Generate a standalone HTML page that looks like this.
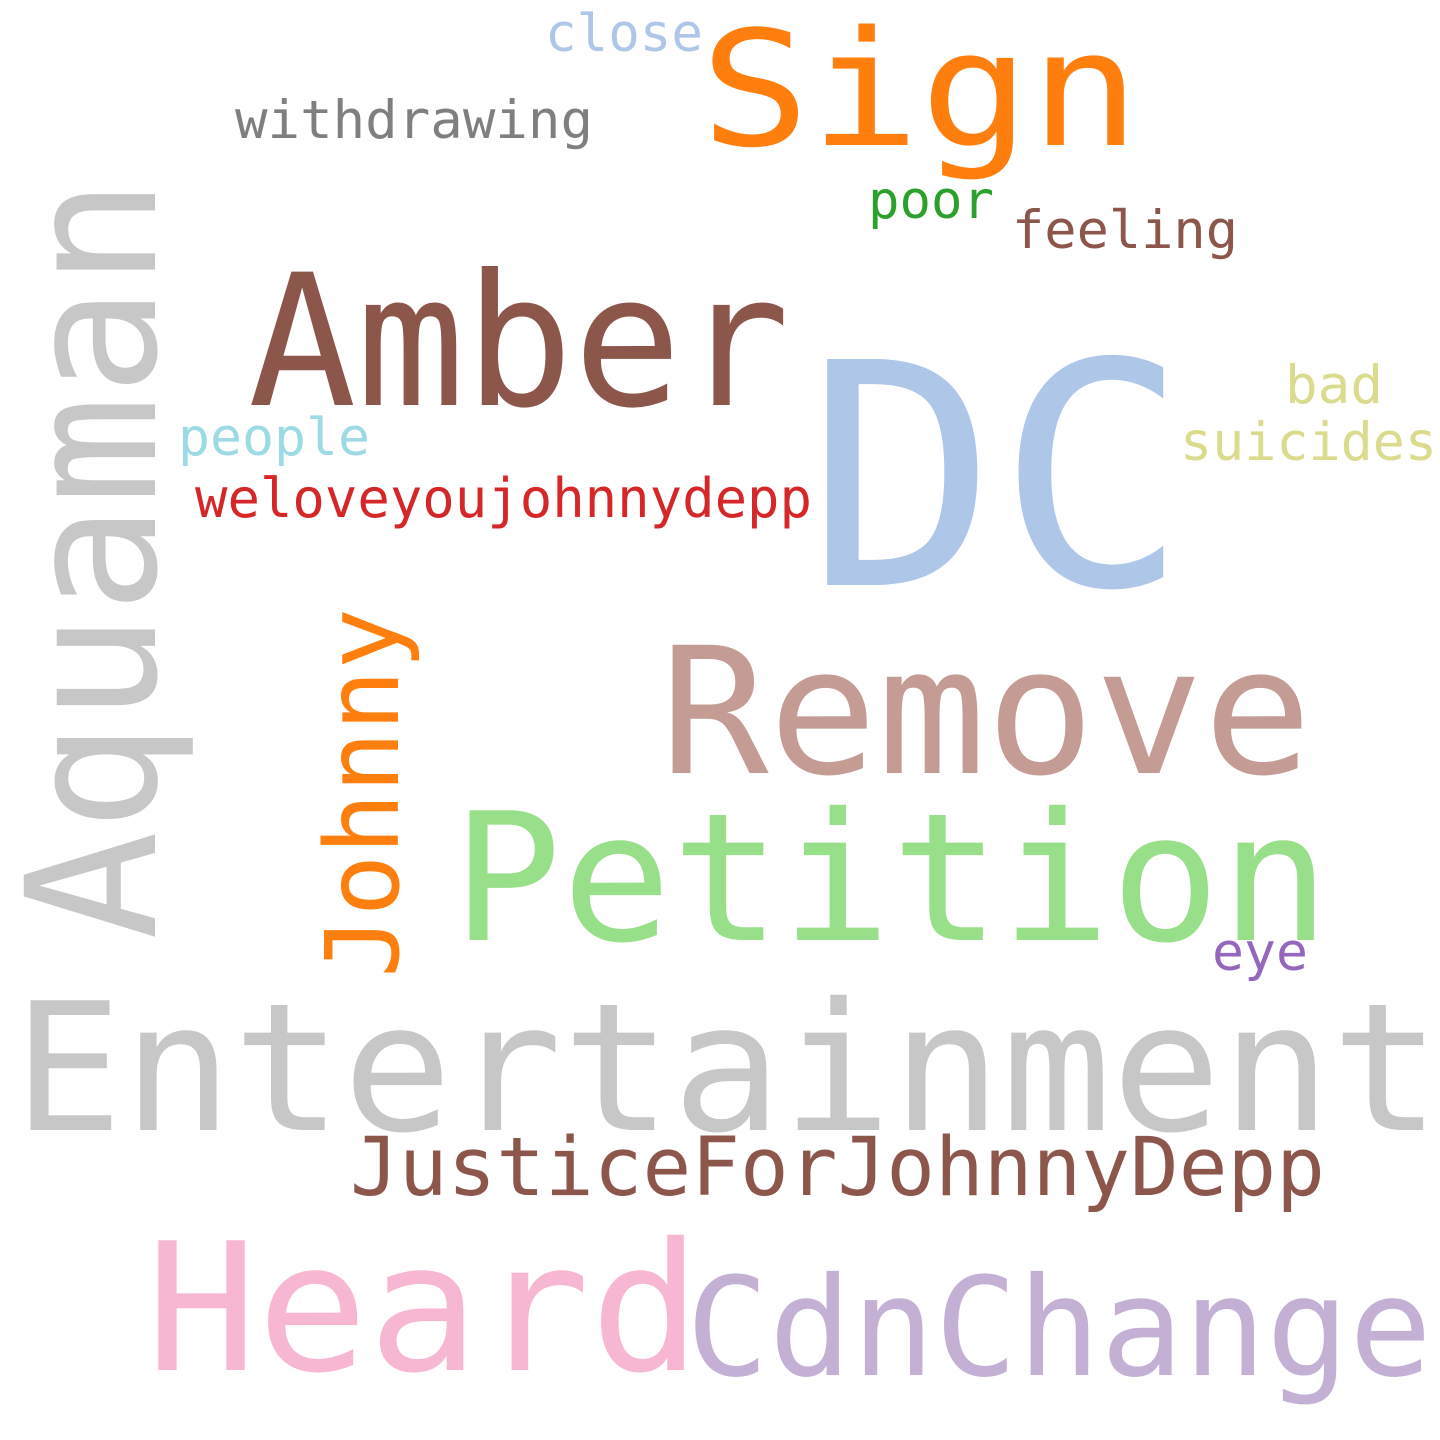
<!DOCTYPE html>
<html><head><meta charset="utf-8"><style>
html,body{margin:0;padding:0;background:#fff;}
svg{display:block;}
text{font-family:"DejaVu Sans Mono","Liberation Mono",monospace;}
</style></head><body>
<svg width="1440" height="1440" viewBox="0 0 1440 1440" xmlns="http://www.w3.org/2000/svg">
<rect width="1440" height="1440" fill="#fff"/>
<text x="700" y="145" font-size="160" fill="#ff7f0e" textLength="440" lengthAdjust="spacingAndGlyphs">Sign</text>
<text x="545" y="51" font-size="52" fill="#aec7e8" textLength="158" lengthAdjust="spacingAndGlyphs">close</text>
<text x="235" y="138" font-size="53" fill="#7f7f7f" textLength="358" lengthAdjust="spacingAndGlyphs">withdrawing</text>
<text x="868" y="218" font-size="52" fill="#2ca02c" textLength="126" lengthAdjust="spacingAndGlyphs">poor</text>
<text x="1012" y="248" font-size="53" fill="#8c564b" textLength="226" lengthAdjust="spacingAndGlyphs">feeling</text>
<text x="248" y="405" font-size="183" fill="#8c564b" textLength="542" lengthAdjust="spacingAndGlyphs">Amber</text>
<text x="806" y="585" font-size="310" fill="#aec7e8" textLength="382" lengthAdjust="spacingAndGlyphs">DC</text>
<text x="1285" y="403" font-size="53" fill="#dbdb8d" textLength="98" lengthAdjust="spacingAndGlyphs">bad</text>
<text x="1180" y="460" font-size="53" fill="#dbdb8d" textLength="257" lengthAdjust="spacingAndGlyphs">suicides</text>
<text x="178" y="455" font-size="52" fill="#9edae5" textLength="192" lengthAdjust="spacingAndGlyphs">people</text>
<text x="195" y="517" font-size="54" fill="#d62728" textLength="617" lengthAdjust="spacingAndGlyphs">weloveyoujohnnydepp</text>
<text transform="translate(155,940) rotate(-90)" x="0" y="0" font-size="180" fill="#c7c7c7" textLength="762" lengthAdjust="spacingAndGlyphs">Aquaman</text>
<text transform="translate(398,978) rotate(-90)" x="0" y="0" font-size="102" fill="#ff7f0e" textLength="370" lengthAdjust="spacingAndGlyphs">Johnny</text>
<text x="660" y="773" font-size="176" fill="#c49c94" textLength="652" lengthAdjust="spacingAndGlyphs">Remove</text>
<text x="452" y="940" font-size="178" fill="#98df8a" textLength="878" lengthAdjust="spacingAndGlyphs">Petition</text>
<text x="1212" y="970" font-size="53" fill="#9467bd" textLength="96" lengthAdjust="spacingAndGlyphs">eye</text>
<text x="13" y="1130" font-size="178" fill="#c7c7c7" textLength="1428" lengthAdjust="spacingAndGlyphs">Entertainment</text>
<text x="350" y="1195" font-size="81" fill="#8c564b" textLength="975" lengthAdjust="spacingAndGlyphs">JusticeForJohnnyDepp</text>
<text x="146" y="1370" font-size="178" fill="#f7b6d2" textLength="555" lengthAdjust="spacingAndGlyphs">Heard</text>
<text x="686" y="1375" font-size="137" fill="#c5b0d5" textLength="746" lengthAdjust="spacingAndGlyphs">CdnChange</text>
</svg>
</body></html>
